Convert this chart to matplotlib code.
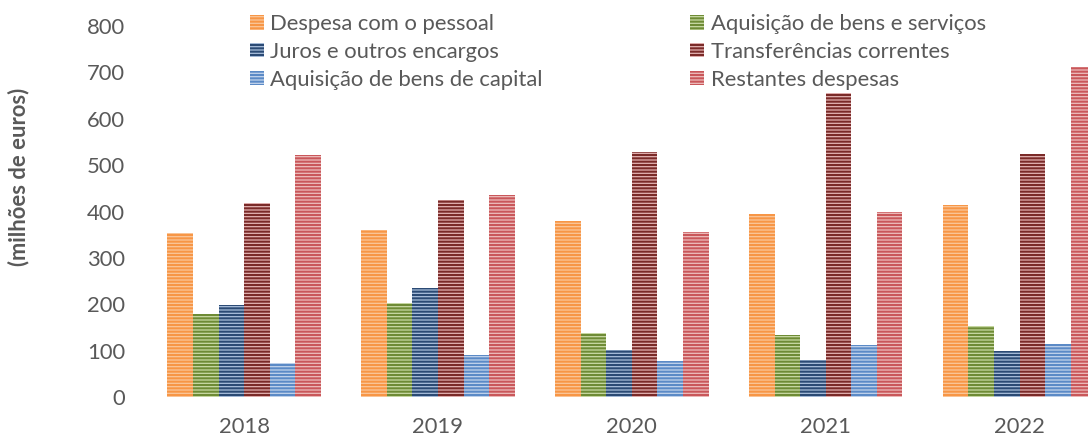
import numpy as np
import matplotlib
matplotlib.use('Agg')
import matplotlib.pyplot as plt

years = ['2018', '2019', '2020', '2021', '2022']
series = ['Despesa com o pessoal', 'Aquisição de bens e serviços', 'Juros e outros encargos',
          'Transferências correntes', 'Aquisição de bens de capital', 'Restantes despesas']

pessoal = [353, 360, 380, 395, 415]
bens_servicos = [179, 202, 137, 134, 153]
juros = [198, 235, 102, 79, 100]
transferencias = [418, 425, 528, 655, 525]
bens_capital = [73, 91, 78, 112, 114]
restantes = [522, 436, 356, 400, 712]

values = [pessoal, bens_servicos, juros, transferencias, bens_capital, restantes]

# cor clara (fundo) e cor escura (riscas)
light = ['#FBC79A', '#C9DAA5', '#A9BFDC', '#E3B2B1', '#C2D4EC', '#EDBDBC']
dark = ['#F79646', '#6E8B35', '#2B4A74', '#7A2A28', '#5B8AC6', '#C9575A']

plt.rcParams['font.family'] = ['Lato', 'DejaVu Sans']
plt.rcParams['hatch.linewidth'] = 1.5
txt = '#595959'
fs = 15.8

fig = plt.figure(figsize=(10.88, 4.37), dpi=100)
ax = fig.add_axes([0.1353, 0.0915, 0.8909, 0.849])

x = np.arange(len(years))
w = 0.132
bars = []
for i in range(len(series)):
    b = ax.bar(x + (i - 2.5) * w, values[i], w, color=light[i], edgecolor=dark[i],
               linewidth=0, hatch='-----', label=series[i])
    bars.append(b)

ax.set_xlim(-0.5, 4.5)
ax.set_ylim(0, 800)
ax.set_yticks(range(0, 801, 100))
ax.set_xticks(x)
ax.set_xticklabels(years)
ax.tick_params(length=0, labelsize=fs, colors=txt)
ax.tick_params(axis='x', pad=14.5)
ax.tick_params(axis='y', pad=16)
for s in ax.spines.values():
    s.set_visible(False)

fig.text(0.017, 0.595, '(milhões de euros)', rotation=90, ha='center', va='center',
         fontsize=fs, fontweight='bold', color=txt)

order = [0, 2, 4, 1, 3, 5]
leg = ax.legend([bars[i] for i in order], [series[i] for i in order], ncol=2,
                loc='upper left', bbox_to_anchor=(0.092, 1.068), fontsize=fs,
                frameon=True, fancybox=False, edgecolor='none', framealpha=1,
                handlelength=0.65, handleheight=0.65, handletextpad=0.3,
                columnspacing=6.7, labelspacing=0.36, borderpad=0.1)
for t in leg.get_texts():
    t.set_color(txt)

fig.savefig('out.png', dpi=100)
